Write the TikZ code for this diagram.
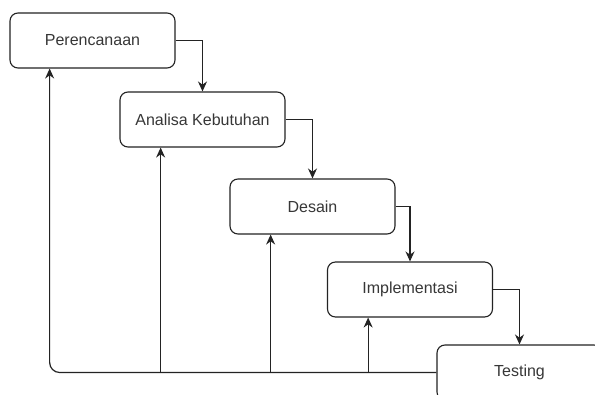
\documentclass[tikz,border=0pt]{standalone}
\usepackage{fontspec}
\setmainfont{Liberation Sans}
\usepackage{xcolor}
\usetikzlibrary{
    positioning,
    arrows.meta,
    calc
}
\definecolor{lineGray}{RGB}{35, 35, 35}
\definecolor{textGray}{RGB}{55, 55, 55}

\begin{document}
\begin{tikzpicture}[x=1pt, y=-1pt,
        phase/.style={draw=lineGray, line width=1.1pt, rounded corners=8pt,
            minimum width=165pt, minimum height=55pt, text=textGray,
            font=\fontsize{16}{19}\selectfont, inner sep=0pt},
        flow/.style={-{Stealth[length=10pt, width=9pt]}, line width=1.2pt, draw=lineGray}
    ]
            \useasboundingbox[fill=white] (0,0) rectangle (595,395);
            
            \node[phase] (P) at (92.5, 40.5) {Perencanaan};
            \node[phase] (A) at (202.5, 119.5) {Analisa Kebutuhan};
            \node[phase] (D) at (312.5, 206.5) {Desain};
            \node[phase] (I) at (410, 289.5) {Implementasi};
            \node[phase] (T) at (519.5, 372.5) {Testing};
            
            % forward steps
            \draw[flow] (P.east) -| (A.north);
            \draw[flow] (A.east) -| (D.north);
            \draw[flow] (D.east) -| (I.north);
            \draw[flow] (I.east) -| (T.north);
            
            % feedback points
            \coordinate (p) at ($(P.south west)!0.242!(P.south east)$);
            \coordinate (a) at ($(A.south west)!0.248!(A.south east)$);
            \coordinate (d) at ($(D.south west)!0.248!(D.south east)$);
            \coordinate (i) at ($(I.south west)!0.248!(I.south east)$);
            
            % feedback
            \draw[flow, rounded corners=10pt] (T.west) -| (p);
            \draw[flow] (T.west -| a) -- (a);
            \draw[flow] (T.west -| d) -- (d);
            \draw[flow] (T.west -| i) -- (i);
        \end{tikzpicture}
\end{document}
